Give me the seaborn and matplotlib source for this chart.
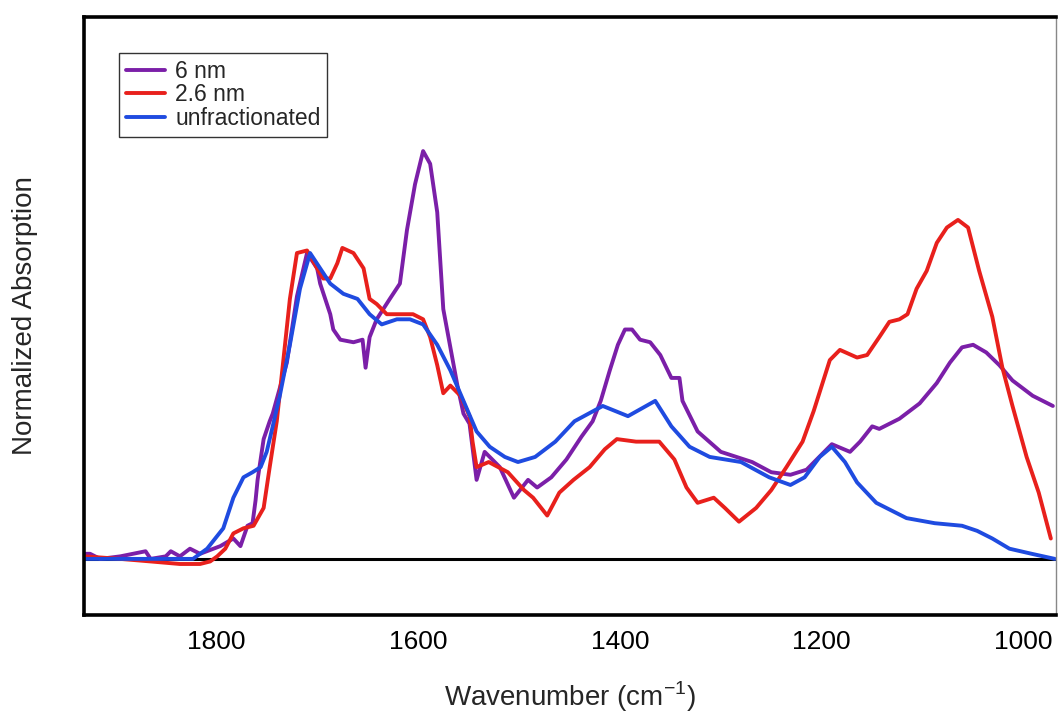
import numpy as np
import pandas as pd
import matplotlib
matplotlib.use("Agg")
import matplotlib.pyplot as plt
import seaborn as sns

# wavenumber (cm-1) / normalized absorption
wn_6nm = [1931, 1925, 1915, 1895, 1870, 1865, 1850, 1845, 1836, 1826, 1816, 1796,
          1783, 1776, 1769, 1764, 1761, 1759, 1753, 1747, 1744, 1730, 1720, 1710,
          1700, 1697, 1687, 1684, 1677, 1664, 1655, 1652, 1648, 1641, 1628, 1618,
          1611, 1603, 1595, 1588, 1581, 1575, 1568, 1561, 1555, 1549, 1542, 1534,
          1519, 1505, 1491, 1482, 1468, 1453, 1438, 1427, 1419, 1410, 1402, 1395,
          1388, 1380, 1370, 1360, 1349, 1341, 1338, 1323, 1300, 1269, 1250, 1231,
          1215, 1190, 1172, 1162, 1150, 1143, 1123, 1103, 1086, 1073, 1061, 1050,
          1037, 1024, 1011, 991, 971]
abs_6nm = [0.01, 0.01, 0.0, 0.005, 0.015, 0.0, 0.005, 0.015, 0.005, 0.02, 0.01, 0.025,
           0.04, 0.025, 0.065, 0.07, 0.115, 0.155, 0.235, 0.27, 0.285, 0.385, 0.515, 0.60,
           0.57, 0.54, 0.48, 0.45, 0.43, 0.425, 0.43, 0.375, 0.435, 0.47, 0.51, 0.54,
           0.645, 0.735, 0.80, 0.775, 0.68, 0.49, 0.415, 0.34, 0.285, 0.265, 0.155, 0.21,
           0.18, 0.12, 0.155, 0.14, 0.16, 0.195, 0.24, 0.27, 0.31, 0.37, 0.42, 0.45,
           0.45, 0.43, 0.425, 0.40, 0.355, 0.355, 0.31, 0.25, 0.21, 0.19, 0.17, 0.165,
           0.175, 0.225, 0.21, 0.23, 0.26, 0.255, 0.275, 0.305, 0.345, 0.385, 0.415, 0.42,
           0.405, 0.38, 0.35, 0.32, 0.30]

wn_26nm = [1931, 1895, 1865, 1836, 1816, 1806, 1799, 1791, 1783, 1773, 1763, 1753,
           1747, 1740, 1734, 1727, 1720, 1710, 1700, 1694, 1687, 1680, 1675, 1664,
           1654, 1648, 1641, 1631, 1618, 1605, 1595, 1588, 1581, 1575, 1568, 1558,
           1549, 1546, 1542, 1530, 1511, 1495, 1486, 1472, 1460, 1446, 1430, 1415,
           1403, 1384, 1361, 1346, 1334, 1323, 1307, 1296, 1282, 1265, 1250, 1235,
           1219, 1208, 1192, 1182, 1165, 1155, 1143, 1133, 1123, 1115, 1106, 1096,
           1086, 1076, 1065, 1055, 1044, 1031, 1021, 1011, 997, 985, 973]
abs_26nm = [0.005, 0.0, -0.005, -0.01, -0.01, -0.005, 0.005, 0.02, 0.05, 0.06, 0.065, 0.10,
            0.18, 0.27, 0.38, 0.51, 0.60, 0.605, 0.57, 0.55, 0.55, 0.58, 0.61, 0.60,
            0.57, 0.51, 0.50, 0.48, 0.48, 0.48, 0.47, 0.435, 0.38, 0.325, 0.34, 0.32,
            0.28, 0.23, 0.18, 0.19, 0.17, 0.135, 0.12, 0.085, 0.13, 0.155, 0.18, 0.215,
            0.235, 0.23, 0.23, 0.195, 0.14, 0.11, 0.12, 0.10, 0.073, 0.10, 0.135, 0.18,
            0.23, 0.29, 0.39, 0.41, 0.395, 0.40, 0.435, 0.465, 0.47, 0.48, 0.53, 0.565,
            0.62, 0.65, 0.665, 0.65, 0.565, 0.475, 0.375, 0.30, 0.20, 0.13, 0.04]

wn_unfrac = [1931, 1865, 1823, 1809, 1793, 1783, 1773, 1764, 1756, 1750, 1744, 1737,
             1727, 1717, 1707, 1697, 1687, 1674, 1660, 1648, 1636, 1621, 1608, 1595,
             1581, 1568, 1555, 1542, 1529, 1514, 1501, 1484, 1464, 1445, 1417, 1392,
             1365, 1349, 1331, 1311, 1280, 1252, 1231, 1217, 1202, 1190, 1177, 1165,
             1146, 1116, 1088, 1061, 1046, 1031, 1014, 992, 969]
abs_unfrac = [0.0, 0.0, 0.0, 0.02, 0.06, 0.12, 0.16, 0.17, 0.18, 0.21, 0.26, 0.32,
              0.42, 0.53, 0.60, 0.57, 0.54, 0.52, 0.51, 0.48, 0.46, 0.47, 0.47, 0.46,
              0.42, 0.37, 0.31, 0.25, 0.22, 0.20, 0.19, 0.20, 0.23, 0.27, 0.30, 0.28,
              0.31, 0.26, 0.22, 0.20, 0.19, 0.16, 0.145, 0.16, 0.20, 0.22, 0.19, 0.15,
              0.11, 0.08, 0.07, 0.065, 0.055, 0.04, 0.02, 0.01, 0.0]

labels = ["6 nm", "2.6 nm", "unfractionated"]
colors = ["#7b1fa8", "#e8201c", "#1f4be0"]

df = pd.concat([
    pd.DataFrame({"wavenumber": wn_6nm, "absorption": abs_6nm, "sample": labels[0]}),
    pd.DataFrame({"wavenumber": wn_26nm, "absorption": abs_26nm, "sample": labels[1]}),
    pd.DataFrame({"wavenumber": wn_unfrac, "absorption": abs_unfrac, "sample": labels[2]}),
], ignore_index=True)

sns.set_style("white")
plt.rcParams["font.family"] = ["Liberation Sans", "DejaVu Sans"]
plt.rcParams["mathtext.fontset"] = "custom"
plt.rcParams["mathtext.rm"] = "Liberation Sans"

fig = plt.figure(figsize=(10.58, 7.18), dpi=100)
ax = fig.add_axes([0.0794, 0.1435, 0.9186, 0.8328])

ax.axhline(0, color="black", lw=2.2, zorder=1)

sns.lineplot(
    data=df,
    x="wavenumber",
    y="absorption",
    hue="sample",
    palette=dict(zip(labels, colors)),
    estimator=None,
    sort=False,
    lw=2.8,
    ax=ax,
)

ax.set_xlim(1931, 968)
ax.set_ylim(-0.11, 1.063)
ax.set_xticks([1800, 1600, 1400, 1200, 1000])
ax.set_yticks([0, 0.2, 0.4, 0.6, 0.8, 1.0])
ax.set_yticklabels([])
ax.tick_params(axis="both", direction="in", length=11, width=2.2, colors="black",
               labelsize=19, pad=11)

for side in ["left", "top", "bottom"]:
    ax.spines[side].set_color("black")
    ax.spines[side].set_linewidth(2.6)
ax.spines["right"].set_color("#888888")
ax.spines["right"].set_linewidth(1)

ax.set_xlabel(r"Wavenumber (cm$^{\mathregular{-1}}$)", fontsize=20, labelpad=18)
ax.set_ylabel("Normalized Absorption", fontsize=20, labelpad=22)

ax.legend(
    loc="upper left",
    bbox_to_anchor=(0.036, 0.94),
    borderaxespad=0,
    fontsize=16.5,
    labelspacing=0.02,
    handlelength=1.7,
    handletextpad=0.45,
    borderpad=0.3,
    frameon=True,
    fancybox=False,
    edgecolor="black",
    title=None,
).get_frame().set_linewidth(1)

fig.savefig("out.png", dpi=100)
